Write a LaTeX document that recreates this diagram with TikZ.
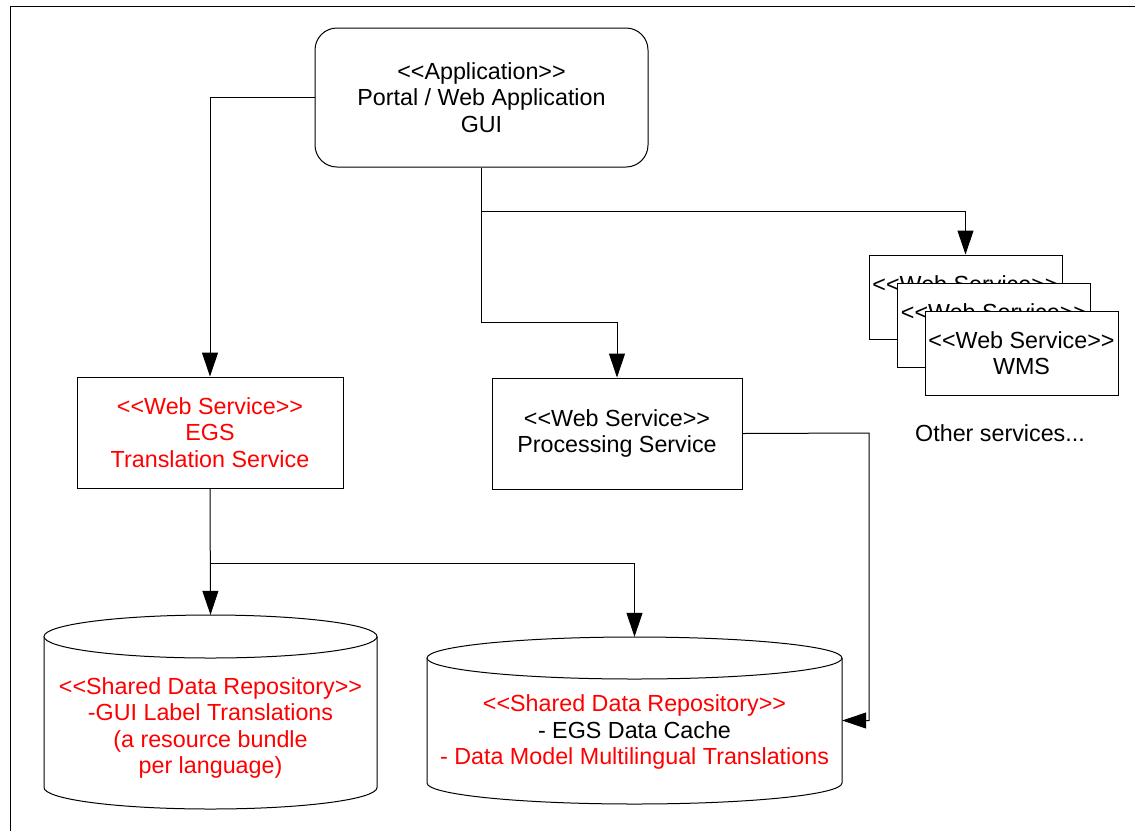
\documentclass[tikz,border=0pt]{standalone}
\usepackage{fontspec}
\setmainfont{Liberation Sans}
\usetikzlibrary{arrows.meta}
\definecolor{labelred}{RGB}{255,0,0}
\begin{document}
\begin{tikzpicture}[x=1pt,y=-1pt,
  every node/.style={font=\fontsize{23.3}{26.5}\selectfont, align=center, inner sep=0pt},
  boxnode/.style={draw, line width=1pt, fill=white},
  wsbox/.style={boxnode, minimum width=193pt, minimum height=84pt},
  conn/.style={line width=1pt},
  arr/.style={conn, -{Triangle[length=24pt,width=16pt]}},
  redtext/.style={text=labelred},
  cylbody/.style={draw, line width=1pt, fill=white}]
\useasboundingbox (0,0) rectangle (1135,831);
% page frame
\draw[line width=1.4pt] (10.5,831) -- (10.5,6.5) -- (1135,6.5);

% application
\node[boxnode, rounded corners=22pt, minimum width=333pt, minimum height=139pt] (app) at (481.5,97.5)
  {<{}<Application>{}>\\Portal / Web Application\\GUI};

% services
\node[boxnode, redtext, minimum width=266pt, minimum height=111pt] (egs) at (210,432.5)
  {<{}<Web Service>{}>\\EGS\\Translation Service};
\node[boxnode, minimum width=250pt, minimum height=111pt] (proc) at (617,433.5)
  {<{}<Web Service>{}>\\Processing Service};

% stacked web services, each one partly covering the one behind it
\node[wsbox] (ws1) at (965.5,297) {};
\node (ws1text) at ([yshift=13.25pt]ws1.center) {<{}<Web Service>{}>};
\node[wsbox] (ws2) at (994,325) {};
\node (ws2text) at ([yshift=13.25pt]ws2.center) {<{}<Web Service>{}>};
\node[wsbox] (ws3) at (1021.5,353) {<{}<Web Service>{}>\\WMS};
\node (other) at (1000,433) {Other services...};

% repositories
\node[minimum width=333pt, minimum height=194pt] (cylA) at (210.5,712) {};
\filldraw[cylbody] (44,636.5) -- (44,787.5) arc[start angle=180, end angle=0, x radius=166.5, y radius=21.5] -- (377,636.5);
\draw[cylbody] (210.5,636.5) ellipse [x radius=166.5, y radius=21.5];
\node[redtext] (cylAtext) at (210.5,728)
  {<{}<Shared Data Repository>{}>\\-GUI Label Translations\\(a resource bundle\\per language)};

\node[minimum width=415pt, minimum height=167pt] (cylB) at (634.5,720.5) {};
\filldraw[cylbody] (427,658) -- (427,783) arc[start angle=180, end angle=0, x radius=207.5, y radius=21] -- (842,658);
\draw[cylbody] (634.5,658) ellipse [x radius=207.5, y radius=21];
\node (cylBtext) at (634.5,732)
  {\textcolor{labelred}{<{}<Shared Data Repository>{}>}\\- EGS Data Cache\\\textcolor{labelred}{- Data Model Multilingual Translations}};

% connectors
\coordinate (j1) at (481.5,211);
\coordinate (j2) at (481.5,322);
\coordinate (j3) at (210,563);
\coordinate (bend) at (869,433);

\draw[arr] (app.west) -| (egs.north);
\draw[arr] (app.south) -- (j2) -| (proc.north);
\draw[arr] (j1) -| (ws1.north);
\draw[arr] (egs.south) -- (cylA.north);
\draw[arr] (j3) -| (cylB.north);
\draw[arr] (proc.east) -- (bend) |- (cylB.east);
\end{tikzpicture}
\end{document}
